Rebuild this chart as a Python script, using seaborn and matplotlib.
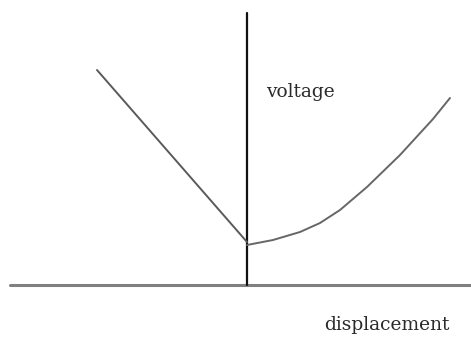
import matplotlib.pyplot as plt
import seaborn as sns
import pandas as pd

sns.set_style("white")

# sketch of voltage vs displacement (arbitrary units, origin at axes crossing)
left_x = [-150, 0]
left_y = [215, 43]
right_x = [0, 26, 53, 73, 93, 120, 153, 186, 203]
right_y = [40, 45, 53, 62, 75, 98, 130, 166, 187]

left = pd.DataFrame({'displacement': left_x, 'voltage': left_y})
right = pd.DataFrame({'displacement': right_x, 'voltage': right_y})

fig = plt.figure(figsize=(4.71, 3.40), dpi=100)
ax = fig.add_axes([0, 0, 1, 1])

# axes lines
ax.plot([-237, 224], [0, 0], color='#808080', linewidth=2.2)
ax.plot([0, 0], [0, 272], color='#111111', linewidth=1.6)

sns.lineplot(data=left, x='displacement', y='voltage', ax=ax,
             color='#5a5a5a', linewidth=1.4, sort=False)
sns.lineplot(data=right, x='displacement', y='voltage', ax=ax,
             color='#666666', linewidth=1.4, sort=False)

ax.text(19, 193, 'voltage', family='DejaVu Serif', fontsize=13.4,
        color='#2a2a2a', va='center', ha='left')
ax.text(77, -40, 'displacement', family='DejaVu Serif', fontsize=13.4,
        color='#2a2a2a', va='center', ha='left')

ax.set_xlim(-247, 224)
ax.set_ylim(-55, 285)
ax.axis('off')

plt.savefig('out.png', dpi=100)
